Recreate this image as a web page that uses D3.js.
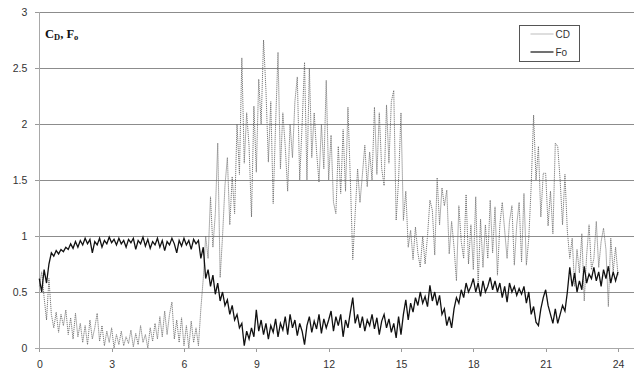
<!DOCTYPE html>
<html>
<head>
<meta charset="utf-8">
<script src="https://cdn.jsdelivr.net/npm/d3@7"></script>
<style>
  body { margin: 0; background: #fff; }
  svg { display: block; }
  .tick text { font-family: "Liberation Sans", Arial, sans-serif; font-size: 10.5px; fill: #333; }
  .legend text { font-family: "Liberation Sans", Arial, sans-serif; font-size: 10px; fill: #333; }
  .title { font-family: "Liberation Serif", "Times New Roman", serif; font-weight: bold; font-size: 12.5px; fill: #111; }
</style>
</head>
<body>
<svg width="634" height="373"></svg>
<script>
'use strict';

// time axis, one sample every 0.1
const xStart = 0;
const xStep = 0.1;
const xTicks = [0, 3, 6, 9, 12, 15, 18, 21, 24];
const yTicks = [0, 0.5, 1, 1.5, 2, 2.5, 3];
const seriesNames = ['CD', 'Fo'];

const cdValues = [
  0.55, 0.68, 0.45, 0.25, 0.62, 0.3, 0.18, 0.32, 0.14, 0.3,
  0.2, 0.34, 0.12, 0.27, 0.08, 0.31, 0.1, 0.22, 0.05, 0.2,
  0.03, 0.25, 0.08, 0.18, 0.31, 0.06, 0.2, 0.02, 0.15, 0.05,
  0.18, 0.0, 0.12, 0.03, 0.15, 0.02, 0.1, 0.04, 0.16, 0.01,
  0.13, 0.03, 0.2, 0.05, 0.12, 0.0, 0.18, 0.06, 0.22, 0.08,
  0.28, 0.1, 0.33, 0.12, 0.3, 0.41, 0.08, 0.25, 0.05, 0.27,
  0.02, 0.2, 0.0, 0.24, 0.05, 0.18, 0.02, 0.35, 0.62, 1.0,
  0.8, 1.35, 0.9, 1.2, 1.83, 0.63, 1.0, 1.45, 1.7, 1.1,
  1.53, 1.2, 2.0, 1.55, 2.59, 1.65, 2.1, 1.8, 1.17, 2.16,
  1.57, 2.4, 2.0, 2.75, 2.3, 1.66, 2.2, 1.29, 2.0, 2.64,
  1.6, 2.1, 1.8, 1.4, 2.0, 1.7, 2.2, 2.42, 1.5, 2.0,
  2.55, 1.5, 2.5, 1.7, 2.1, 1.75, 1.48, 2.0, 1.6, 2.39,
  1.5, 1.9, 1.3, 1.2, 1.8, 1.38, 1.95, 1.4, 2.15, 1.5,
  0.79, 1.2, 1.6, 1.3, 1.55, 1.81, 1.44, 1.75, 1.5, 2.15,
  1.55, 2.1, 1.6, 1.45, 2.17, 1.65, 2.2, 2.3, 1.14, 1.5,
  2.1, 1.14, 1.4, 0.9, 1.05, 0.79, 1.08, 0.85, 0.72, 1.0,
  0.75, 1.0, 1.32, 1.23, 0.83, 1.52, 1.1, 1.43, 1.27, 1.41,
  0.84, 1.13, 0.9, 0.6, 1.27, 0.95, 0.8, 1.37, 0.75, 1.1,
  0.7, 1.35, 0.55, 1.15, 0.72, 1.1, 0.8, 1.32, 0.85, 1.26,
  0.65, 1.1, 1.3, 1.05, 0.8, 1.13, 1.27, 0.74, 1.1, 1.3,
  0.77, 1.38, 0.74, 0.98, 1.45, 2.08, 1.5, 1.8, 1.17, 1.56,
  1.56, 1.09, 1.4, 1.02, 1.83, 1.8, 1.5, 1.1, 1.55, 1.04,
  0.8, 0.98, 0.55, 0.88, 0.67, 1.02, 0.42, 0.83, 1.1, 0.7,
  0.8, 1.13, 0.72, 0.95, 1.07, 0.88, 0.37, 0.98, 0.68, 0.9,
  0.65
];

const foValues = [
  0.62, 0.5, 0.7, 0.58, 0.75, 0.85, 0.82, 0.87, 0.84, 0.88,
  0.86, 0.9, 0.88, 0.93, 0.89, 0.95, 0.9, 0.96, 0.92, 0.98,
  0.93, 0.97, 0.85, 0.95, 0.92, 0.98, 0.9, 0.96, 0.93, 0.99,
  0.94, 0.97, 0.92, 0.98, 0.93, 0.96, 0.9, 0.97, 0.94, 0.98,
  0.88, 0.96, 0.93, 0.99, 0.91, 0.97, 0.89, 0.95, 0.92, 0.98,
  0.9, 0.96, 0.87, 0.95, 0.92, 0.98, 0.93, 0.85, 0.96, 0.91,
  0.98, 0.92, 0.96, 0.88, 0.97, 0.93, 0.96, 0.8, 0.9, 0.62,
  0.7, 0.55, 0.65, 0.48, 0.58, 0.42, 0.5, 0.38, 0.43, 0.3,
  0.38, 0.25, 0.3, 0.18, 0.22, 0.02, 0.15, 0.08, 0.18, 0.1,
  0.34, 0.15, 0.25, 0.12, 0.22, 0.08, 0.2, 0.14, 0.26, 0.1,
  0.22, 0.16, 0.28, 0.12, 0.3, 0.18, 0.25, 0.11, 0.22, 0.15,
  0.03, 0.2, 0.28, 0.14, 0.24, 0.17, 0.3, 0.13, 0.26, 0.18,
  0.25, 0.33, 0.15, 0.28, 0.2, 0.3, 0.1, 0.25, 0.18, 0.32,
  0.45, 0.22, 0.3, 0.18, 0.28, 0.15, 0.25, 0.2, 0.3, 0.17,
  0.27, 0.12, 0.24, 0.3, 0.18, 0.26, 0.14, 0.22, 0.09, 0.28,
  0.12, 0.3, 0.43, 0.25, 0.4, 0.32, 0.45, 0.38, 0.5, 0.4,
  0.46, 0.37, 0.56, 0.42, 0.5, 0.38, 0.47, 0.3, 0.35, 0.2,
  0.28, 0.18, 0.35, 0.45, 0.4, 0.52, 0.45, 0.58, 0.5, 0.55,
  0.62, 0.5, 0.58, 0.46, 0.6, 0.5, 0.55, 0.63, 0.52, 0.6,
  0.5, 0.58, 0.45, 0.55, 0.41, 0.58, 0.5, 0.55, 0.47, 0.53,
  0.48, 0.55, 0.4, 0.5, 0.3, 0.37, 0.23, 0.2, 0.35, 0.45,
  0.52, 0.38, 0.3, 0.22, 0.35, 0.22, 0.3, 0.38, 0.33, 0.5,
  0.72, 0.55, 0.67, 0.5, 0.6, 0.52, 0.73, 0.58, 0.66, 0.62,
  0.72, 0.6, 0.68, 0.55, 0.7, 0.62, 0.73, 0.58, 0.68, 0.6,
  0.68
];

function draw() {
  const width = 634;
  const plot = { left: 39.3, right: 618, top: 12, bottom: 348, edge: 634 };

  const svg = d3.select('svg');

  const x = d3.scaleLinear().domain([0, 24]).range([plot.left, plot.right]);
  const y = d3.scaleLinear().domain([0, 3]).range([plot.bottom, plot.top]);

  // horizontal gridlines run to the right edge of the picture
  svg.append('g')
    .selectAll('line')
    .data(yTicks.filter(d => d > 0))
    .enter().append('line')
    .attr('x1', plot.left).attr('x2', plot.edge)
    .attr('y1', d => y(d)).attr('y2', d => y(d))
    .attr('stroke', '#8c8c8c')
    .attr('stroke-width', 1)
    .attr('shape-rendering', 'crispEdges');

  const yAxis = svg.append('g')
    .attr('transform', `translate(${plot.left},0)`)
    .call(d3.axisLeft(y).tickValues(yTicks).tickSize(4).tickPadding(8).tickFormat(d3.format('')));

  const xAxis = svg.append('g')
    .attr('transform', `translate(0,${plot.bottom})`)
    .call(d3.axisBottom(x).tickValues(xTicks).tickSize(4).tickPadding(9).tickFormat(d3.format('d')));

  [yAxis, xAxis].forEach(a => {
    a.select('.domain').remove();
    a.selectAll('.tick line').attr('stroke', '#9a9a9a').attr('shape-rendering', 'crispEdges');
  });

  svg.append('line')
    .attr('x1', plot.left).attr('x2', plot.left)
    .attr('y1', plot.top).attr('y2', plot.bottom)
    .attr('stroke', '#a8a8a8')
    .attr('shape-rendering', 'crispEdges');
  svg.append('line')
    .attr('x1', plot.left - 4).attr('x2', plot.edge)
    .attr('y1', plot.bottom).attr('y2', plot.bottom)
    .attr('stroke', '#a8a8a8')
    .attr('shape-rendering', 'crispEdges');

  const line = d3.line()
    .x((d, i) => x(xStart + i * xStep))
    .y(d => y(d));

  svg.append('path')
    .datum(cdValues)
    .attr('d', line)
    .attr('fill', 'none')
    .attr('stroke', '#6e6e6e')
    .attr('stroke-width', 0.9)
    .attr('stroke-dasharray', '1.2,0.8');

  svg.append('path')
    .datum(foValues)
    .attr('d', line)
    .attr('fill', 'none')
    .attr('stroke', '#111')
    .attr('stroke-width', 1.3);

  // title C_D, F_o
  const title = svg.append('text').classed('title', true)
    .attr('x', 45).attr('y', 38);
  title.append('tspan').text('C');
  title.append('tspan').attr('font-size', '8.5px').attr('dy', 2).text('D');
  title.append('tspan').attr('dy', -2).text(', F');
  title.append('tspan').attr('font-size', '8.5px').attr('dy', 2).text('o');

  /** legend */
  const legend = svg.append('g').classed('legend', true)
    .attr('transform', 'translate(519.5,25.5)');
  legend.append('rect')
    .attr('width', 60).attr('height', 36)
    .attr('fill', '#fff')
    .attr('stroke', '#555');
  const styles = [
    { stroke: '#bdbdbd', width: 1 },
    { stroke: '#111', width: 1.2 }
  ];
  seriesNames.forEach((name, i) => {
    const ly = 8.5 + i * 18;
    legend.append('line')
      .attr('x1', 11).attr('x2', 34)
      .attr('y1', ly).attr('y2', ly)
      .attr('stroke', styles[i].stroke)
      .attr('stroke-width', styles[i].width);
    legend.append('text')
      .attr('x', 36).attr('y', ly)
      .attr('dy', '0.35em')
      .text(name);
  });
}

draw();
</script>
</body>
</html>
